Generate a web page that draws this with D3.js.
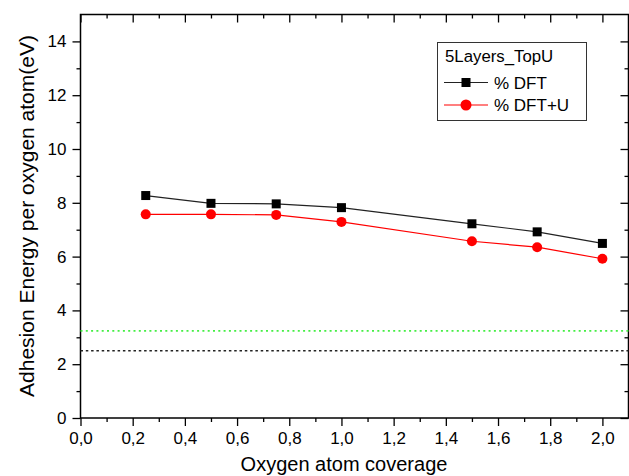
<!DOCTYPE html>
<html>
<head>
<meta charset="utf-8">
<script src="https://cdn.jsdelivr.net/npm/d3@7"></script>
<style>
  html, body { margin: 0; padding: 0; background: #fff; }
  svg { display: block; font-family: "Liberation Sans", Arial, sans-serif; }
</style>
</head>
<body>
<svg id="chart" width="629" height="476"></svg>
<script>
// Oxygen coverage values (x) and adhesion energies per oxygen atom (eV)
const coverage = [0.25, 0.5, 0.75, 1.0, 1.5, 1.75, 2.0];
const dft      = [8.27, 7.98, 7.96, 7.82, 7.22, 6.92, 6.49];
const dftU     = [7.57, 7.57, 7.55, 7.29, 6.57, 6.35, 5.92];

// Horizontal reference levels (dotted)
const refGreen = 3.24;
const refBlack = 2.50;

// Tick values
const xMajor = [0, 0.2, 0.4, 0.6, 0.8, 1.0, 1.2, 1.4, 1.6, 1.8, 2.0];
const xMinor = [0.1, 0.3, 0.5, 0.7, 0.9, 1.1, 1.3, 1.5, 1.7, 1.9];
const yMajor = [0, 2, 4, 6, 8, 10, 12, 14];
const yMinor = [1, 3, 5, 7, 9, 11, 13];

const legendTitle = "5Layers_TopU";
const seriesNames = ["% DFT", "% DFT+U"];

const svg = d3.select("#chart");

const plotL = 80.5, plotR = 628.5, plotT = 14.5, plotB = 418;
const x = d3.scaleLinear().domain([0, 2.1]).range([plotL, plotR]);
const y = d3.scaleLinear().domain([0, 15]).range([plotB, plotT]);

const fmt = d => d3.format(".1f")(d).replace(".", ",");

function styleAxis(g) {
  g.selectAll("path.domain").remove();
  g.selectAll(".tick line").attr("stroke", "#000").attr("stroke-width", 1.3);
  g.selectAll(".tick text").attr("font-size", 17).attr("fill", "#000")
    .attr("font-family", "'Liberation Sans', Arial, sans-serif");
}

// bottom axis
svg.append("g").attr("transform", `translate(0,${plotB})`)
  .call(d3.axisBottom(x).tickValues(xMajor).tickSize(8).tickPadding(6).tickFormat(fmt))
  .call(styleAxis);
svg.append("g").attr("transform", `translate(0,${plotB})`)
  .call(d3.axisBottom(x).tickValues(xMinor).tickSize(4).tickFormat(""))
  .call(styleAxis);
// top axis (inward ticks)
svg.append("g").attr("transform", `translate(0,${plotT})`)
  .call(d3.axisTop(x).tickValues(xMajor).tickSize(-8).tickFormat(""))
  .call(styleAxis);
svg.append("g").attr("transform", `translate(0,${plotT})`)
  .call(d3.axisTop(x).tickValues(xMinor).tickSize(-4).tickFormat(""))
  .call(styleAxis);
// left axis
svg.append("g").attr("transform", `translate(${plotL},0)`)
  .call(d3.axisLeft(y).tickValues(yMajor).tickSize(8).tickPadding(6).tickFormat(d3.format("d")))
  .call(styleAxis);
svg.append("g").attr("transform", `translate(${plotL},0)`)
  .call(d3.axisLeft(y).tickValues(yMinor).tickSize(4).tickFormat(""))
  .call(styleAxis);
// right axis (inward ticks)
svg.append("g").attr("transform", `translate(${plotR},0)`)
  .call(d3.axisRight(y).tickValues(yMajor).tickSize(-8).tickFormat(""))
  .call(styleAxis);
svg.append("g").attr("transform", `translate(${plotR},0)`)
  .call(d3.axisRight(y).tickValues(yMinor).tickSize(-4).tickFormat(""))
  .call(styleAxis);

// frame
svg.append("rect")
  .attr("x", plotL).attr("y", plotT)
  .attr("width", plotR - plotL).attr("height", plotB - plotT)
  .attr("fill", "none").attr("stroke", "#000").attr("stroke-width", 1.5);

// dotted reference lines
svg.append("line")
  .attr("x1", x(0)).attr("x2", x(2.1))
  .attr("y1", y(refGreen)).attr("y2", y(refGreen))
  .attr("stroke", "#44ee44").attr("stroke-width", 1.6)
  .attr("stroke-dasharray", "2,3.3");
svg.append("line")
  .attr("x1", x(0)).attr("x2", x(2.1))
  .attr("y1", y(refBlack)).attr("y2", y(refBlack))
  .attr("stroke", "#222").attr("stroke-width", 1.3)
  .attr("stroke-dasharray", "2.5,2.8");

const line = d3.line().x(d => x(d[0])).y(d => y(d[1]));
const dftPts = coverage.map((c, i) => [c, dft[i]]);
const dftUPts = coverage.map((c, i) => [c, dftU[i]]);

svg.append("path").datum(dftPts).attr("d", line)
  .attr("fill", "none").attr("stroke", "#222").attr("stroke-width", 1.2);
svg.append("path").datum(dftUPts).attr("d", line)
  .attr("fill", "none").attr("stroke", "#ff0000").attr("stroke-width", 1.2);

const sq = 9;
svg.selectAll("rect.dft").data(dftPts).enter().append("rect")
  .attr("class", "dft")
  .attr("x", d => x(d[0]) - sq / 2).attr("y", d => y(d[1]) - sq / 2)
  .attr("width", sq).attr("height", sq).attr("fill", "#000");
svg.selectAll("circle.dftu").data(dftUPts).enter().append("circle")
  .attr("class", "dftu")
  .attr("cx", d => x(d[0])).attr("cy", d => y(d[1])).attr("r", 5)
  .attr("fill", "#ff0000");

// axis titles
svg.append("text")
  .attr("x", 344).attr("y", 471)
  .attr("text-anchor", "middle").attr("font-size", 20)
  .text("Oxygen atom coverage");
svg.append("text")
  .attr("transform", "translate(34,216) rotate(-90)")
  .attr("text-anchor", "middle").attr("font-size", 21)
  .text("Adhesion Energy per oxygen atom(eV)");

// legend
const lg = svg.append("g");
lg.append("rect")
  .attr("x", 437.5).attr("y", 42.5).attr("width", 149).attr("height", 78)
  .attr("fill", "#fff").attr("stroke", "#333").attr("stroke-width", 1);
lg.append("text").attr("x", 445).attr("y", 62).attr("font-size", 16.8).text(legendTitle);

const rows = [
  { name: seriesNames[0], color: "#222", yPos: 82.5, shape: "square" },
  { name: seriesNames[1], color: "#ff0000", yPos: 105, shape: "circle" }
];
rows.forEach(r => {
  lg.append("line").attr("x1", 444).attr("x2", 488)
    .attr("y1", r.yPos).attr("y2", r.yPos)
    .attr("stroke", r.color).attr("stroke-width", 1.2);
  if (r.shape === "square") {
    lg.append("rect").attr("x", 466 - sq / 2).attr("y", r.yPos - sq / 2)
      .attr("width", sq).attr("height", sq).attr("fill", "#000");
  } else {
    lg.append("circle").attr("cx", 466).attr("cy", r.yPos).attr("r", 5.5).attr("fill", "#ff0000");
  }
  lg.append("text").attr("x", 494).attr("y", r.yPos + 6).attr("font-size", 17).text(r.name);
});
</script>
</body>
</html>
